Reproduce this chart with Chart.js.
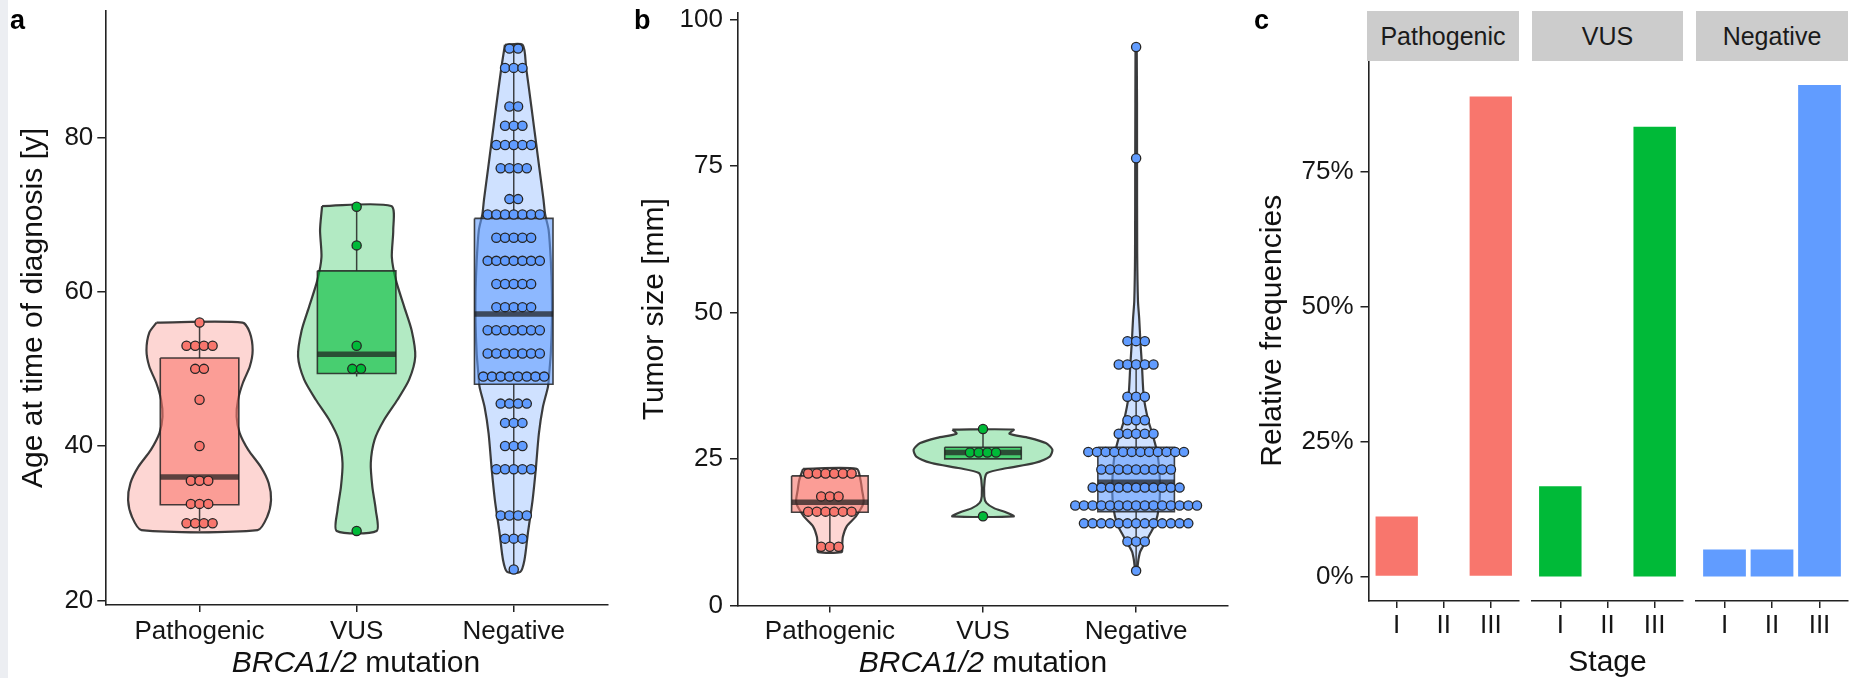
<!DOCTYPE html>
<html>
<head>
<meta charset="utf-8">
<script src="https://cdn.jsdelivr.net/npm/chart.js@4.4.1/dist/chart.umd.min.js"></script>
<style>
  html, body { margin: 0; padding: 0; background: #fff; }
  body { width: 1851px; height: 678px; position: relative; overflow: hidden; font-family: 'Liberation Sans', Arial, sans-serif; }
  canvas { position: absolute; top: 0; }
  .band { position: absolute; left: 0; top: 0; width: 8px; height: 678px; background: #eceef2; }
  .lbl { position: absolute; font-weight: bold; font-size: 27px; line-height: 27px; color: #000; }
  .xt { position: absolute; top: 647px; font-size: 30px; line-height: 30px; color: #111; white-space: nowrap; transform: translateX(-50%); }
  .strip { position: absolute; top: 11px; height: 50px; background: #cccccc; font-size: 25px; color: #1a1a1a;
           display: flex; align-items: center; justify-content: center; }
</style>
</head>
<body>
<div class="band"></div>
<canvas id="chartA" width="620" height="678" style="left:0"></canvas>
<canvas id="chartB" width="620" height="678" style="left:620px"></canvas>
<canvas id="chartC1" width="285" height="678" style="left:1240px"></canvas>
<canvas id="chartC2" width="165" height="678" style="left:1525px"></canvas>
<canvas id="chartC3" width="161" height="678" style="left:1690px"></canvas>

<div class="lbl" style="left:10px;top:7px">a</div>
<div class="lbl" style="left:634px;top:7px">b</div>
<div class="lbl" style="left:1254px;top:7px">c</div>
<div class="xt" style="left:356px"><i>BRCA1/2</i> mutation</div>
<div class="xt" style="left:983px"><i>BRCA1/2</i> mutation</div>
<div class="strip" style="left:1367px;width:152px">Pathogenic</div>
<div class="strip" style="left:1532px;width:151px">VUS</div>
<div class="strip" style="left:1696px;width:152px">Negative</div>

<script>
// groups and stages
const groups = ['Pathogenic', 'VUS', 'Negative'];
const stages = ['I', 'II', 'III'];

// tick values
const ageTicks = [20, 40, 60, 80];
const sizeTicks = [0, 25, 50, 75, 100];
const freqTicks = [0, 0.25, 0.5, 0.75];

// panel a: age at diagnosis, dot rows (binned value / number of dots)
const agePathoDots = [56, 53, 50, 46, 40, 35.5, 32.5, 30];
const agePathoCounts = [1, 4, 2, 1, 1, 3, 3, 4];
const ageVusDots = [71, 66, 53, 50, 29];
const ageVusCounts = [1, 1, 1, 2, 1];
const ageNegDots = [91.5, 89, 84, 81.5, 79, 76, 72, 70, 67, 64, 61, 58, 55, 52, 49, 45.5, 43, 40, 37, 31, 28, 24];
const ageNegCounts = [2, 3, 2, 3, 5, 4, 2, 7, 5, 7, 5, 5, 7, 7, 8, 4, 3, 3, 5, 4, 3, 1];

// box stats: lower whisker, q1, median, q3, upper whisker
const agePathoBox = [29, 32.4, 36.0, 51.4, 56];
const ageVusBox = [49, 49.4, 51.9, 62.7, 71];
const ageNegBox = [24, 48.0, 57.1, 69.5, 92];

// violin outlines: level and half width
const agePathoVioY = [56, 54.7, 52.4, 50.3, 48.2, 46, 43.8, 41.7, 39.5, 37.3, 35.2, 33, 30.8, 29.1];
const agePathoVioW = [0.274, 0.32, 0.338, 0.32, 0.276, 0.245, 0.236, 0.255, 0.31, 0.39, 0.44, 0.455, 0.43, 0.37];
const ageVusVioY = [71.1, 68, 64.5, 61.5, 58.1, 55, 51.6, 48.6, 46, 43.4, 40.8, 37.8, 34.7, 31.7, 29];
const ageVusVioW = [0.22, 0.233, 0.224, 0.25, 0.302, 0.35, 0.373, 0.334, 0.26, 0.175, 0.114, 0.09, 0.1, 0.122, 0.127];
const ageNegVioY = [92, 89, 84, 81.5, 79, 76, 72, 70, 68, 64, 60, 56, 52, 49.5, 47.7, 45, 41.6, 36.9, 33, 28.7, 25.2, 23.7];
const ageNegVioW = [0.056, 0.079, 0.112, 0.128, 0.144, 0.163, 0.189, 0.2, 0.222, 0.236, 0.243, 0.243, 0.236, 0.226, 0.218, 0.185, 0.16, 0.14, 0.12, 0.09, 0.068, 0.042];

// panel b: tumor size
const sizePathoDots = [22.5, 18.6, 16, 10];
const sizePathoCounts = [6, 3, 6, 3];
const sizeVusDots = [30.1, 26.1, 15.2];
const sizeVusCounts = [1, 4, 1];
const sizeNegDots = [95.3, 76.3, 45.1, 41.1, 35.6, 31.6, 29.3, 26.2, 23.2, 20.1, 17.05, 14.0, 10.9, 5.9];
const sizeNegCounts = [1, 1, 3, 5, 3, 3, 5, 12, 9, 11, 15, 13, 3, 1];

const sizePathoBox = [10, 15.9, 17.6, 22.1, 23];
const sizeVusBox = [25, 25, 26.1, 27, 30];
const sizeNegBox = [6, 16.0, 21.0, 27.0, 41];

const sizePathoVioY = [23.3, 21.4, 19.7, 17.5, 15.2, 13.5, 11.7, 10, 9.1];
const sizePathoVioW = [0.175, 0.2, 0.21, 0.22, 0.17, 0.11, 0.085, 0.08, 0.077];
const sizeVusVioY = [30.0, 29.3, 28.6, 27.7, 26.6, 25.4, 24.3, 23.4, 22.6, 21.4, 18.6, 17.5, 16.6, 15.9, 15.2];
const sizeVusVioW = [0.2, 0.173, 0.3, 0.41, 0.453, 0.436, 0.337, 0.15, 0.027, 0.011, 0.008, 0.022, 0.072, 0.149, 0.2];
const sizeNegVioY = [95.3, 76.3, 60, 52, 49, 45, 41, 35.6, 31.6, 29.3, 26.2, 23.2, 20.1, 17, 14, 12.3, 10.9, 9.2, 7.8, 5.9];
const sizeNegVioW = [0.004, 0.006, 0.007, 0.012, 0.02, 0.028, 0.038, 0.05, 0.079, 0.106, 0.137, 0.151, 0.156, 0.15, 0.126, 0.093, 0.064, 0.027, 0.015, 0.005];

// panel c: relative frequency of stage
const freqPatho = [0.111, 0, 0.889];
const freqVus = [0.167, 0, 0.833];
const freqNeg = [0.05, 0.05, 0.91];

// styling
const FONT = "'Liberation Sans', Arial, sans-serif";
Chart.defaults.font.family = FONT;
const groupCol = ['248,118,109', '0,186,56', '97,156,255'];
const solidCol = ['#F8766D', '#00BA38', '#619CFF'];
const axisCol = '#222';
const lineCol = 'rgba(35,35,35,0.85)';
const tickFont = {family: FONT, size: 26};
const titleFont = {family: FONT, size: 30, lineHeight: 1};

function groupDatasets(i, vioY, vioW, box, dotVals, dotCounts, step) {
    const c = i + 1;
    const hw = 0.25;
    const violin = vioY.map((y, k) => ({x: c - vioW[k], y: y}))
        .concat(vioY.map((y, k) => ({x: c + vioW[k], y: y})).reverse());
    violin.push(violin[0]);
    const [lo, q1, med, q3, hi] = box;
    const rect = [{x: c - hw, y: q3}, {x: c + hw, y: q3}, {x: c + hw, y: q1}, {x: c - hw, y: q1}, {x: c - hw, y: q3}];
    const dots = [];
    dotVals.forEach((v, k) => {
        const n = dotCounts[k];
        for (let j = 0; j < n; j++) dots.push({x: c + (j - (n - 1) / 2) * step, y: v});
    });
    const seg = {showLine: true, pointRadius: 0, pointHitRadius: 0};
    return [
        Object.assign({data: violin, fill: 'shape', tension: 0.25, backgroundColor: 'rgba(' + groupCol[i] + ',0.3)',
            borderColor: 'rgba(40,40,40,0.9)', borderWidth: 2.2, borderJoinStyle: 'round', order: 6}, seg),
        Object.assign({data: [{x: c, y: hi}, {x: c, y: q3}], borderColor: lineCol, borderWidth: 1.5, order: 5}, seg),
        Object.assign({data: [{x: c, y: q1}, {x: c, y: lo}], borderColor: lineCol, borderWidth: 1.5, order: 5}, seg),
        Object.assign({data: rect, fill: 'shape', tension: 0, backgroundColor: 'rgba(' + groupCol[i] + ',0.6)',
            borderColor: lineCol, borderWidth: 1.6, order: 4}, seg),
        Object.assign({data: [{x: c - hw, y: med}, {x: c + hw, y: med}], borderColor: 'rgba(30,30,30,0.72)', borderWidth: 5.5, order: 3}, seg),
        {data: dots, backgroundColor: solidCol[i], borderColor: '#262626', borderWidth: 1.3, pointRadius: 4.6, pointHitRadius: 0, order: 1}
    ];
}

function yScale(min, max, ticks, fmt, width, pad, title, titlePad) {
    return {
        type: 'linear', min: min, max: max,
        afterBuildTicks: s => { s.ticks = ticks.map(v => ({value: v})); },
        afterFit: s => { s.width = width; s.paddingTop = 0; s.paddingBottom = 0; },
        ticks: {font: tickFont, color: '#151515', padding: pad, callback: fmt},
        grid: {drawOnChartArea: false, tickLength: 8, color: axisCol, lineWidth: 1.5},
        border: {color: axisCol, width: 1.6},
        title: {display: true, text: title, font: titleFont, color: '#111', padding: {top: titlePad, bottom: 0}}
    };
}

function xScale(labels, height, pad, title) {
    return {
        type: 'linear', min: 0.4, max: 3.6, offset: false,
        afterBuildTicks: s => { s.ticks = labels.map((l, i) => ({value: i + 1})); },
        afterFit: s => { s.height = height; s.paddingLeft = 0; s.paddingRight = 0; },
        ticks: {font: tickFont, color: '#151515', padding: pad, autoSkip: false, maxRotation: 0, minRotation: 0,
            callback: v => labels[Math.round(v) - 1]},
        grid: {offset: false, drawOnChartArea: false, tickLength: 7, color: axisCol, lineWidth: 1.5},
        border: {color: axisCol, width: 1.6},
        title: title ? {display: true, text: title, font: titleFont, color: '#111', padding: {top: 0, bottom: 0}} : {display: false}
    };
}

const baseOptions = {
    responsive: false,
    animation: false,
    devicePixelRatio: 1,
    plugins: {legend: {display: false}, tooltip: {enabled: false}}
};

// panel a
const stepA = 0.0554;
new Chart(document.getElementById('chartA'), {
    type: 'scatter',
    data: {datasets: [].concat(
        groupDatasets(0, agePathoVioY, agePathoVioW, agePathoBox, agePathoDots, agePathoCounts, stepA),
        groupDatasets(1, ageVusVioY, ageVusVioW, ageVusBox, ageVusDots, ageVusCounts, stepA),
        groupDatasets(2, ageNegVioY, ageNegVioW, ageNegBox, ageNegDots, ageNegCounts, stepA)
    )},
    options: Object.assign({}, baseOptions, {
        layout: {padding: {left: 0, right: 12, top: 10.8, bottom: 0}},
        scales: {
            x: xScale(groups, 73, 4, null),
            y: yScale(19.4, 96.4, ageTicks, v => String(v), 105.3, 4, 'Age at time of diagnosis [y]', 18.5)
        }
    })
});

// panel b
const stepB = 0.0568;
new Chart(document.getElementById('chartB'), {
    type: 'scatter',
    data: {datasets: [].concat(
        groupDatasets(0, sizePathoVioY, sizePathoVioW, sizePathoBox, sizePathoDots, sizePathoCounts, stepB),
        groupDatasets(1, sizeVusVioY, sizeVusVioW, sizeVusBox, sizeVusDots, sizeVusCounts, stepB),
        groupDatasets(2, sizeNegVioY, sizeNegVioW, sizeNegBox, sizeNegDots, sizeNegCounts, stepB)
    )},
    options: Object.assign({}, baseOptions, {
        layout: {padding: {left: 0, right: 12, top: 13, bottom: 0}},
        scales: {
            x: xScale(groups, 72.6, 4, null),
            y: yScale(0, 101.1, sizeTicks, v => String(v), 118, 7, 'Tumor size [mm]', 20)
        }
    })
});

// panel c: one chart per facet
function facet(id, values, i, pad, showY, xTitle) {
    const y = showY
        ? yScale(-0.0455, 0.9555, freqTicks, v => Math.round(v * 100) + '%', 128.5, 7, 'Relative frequencies', 17.7)
        : {display: false, min: -0.0455, max: 0.9555};
    return new Chart(document.getElementById(id), {
        type: 'bar',
        data: {datasets: [{
            data: values.map((v, k) => ({x: k + 1, y: v})),
            backgroundColor: solidCol[i],
            borderWidth: 0,
            barPercentage: 0.9,
            categoryPercentage: 1
        }]},
        options: Object.assign({}, baseOptions, {
            layout: {padding: pad},
            scales: {x: xScale(stages, 77, 2, xTitle), y: y}
        })
    });
}
facet('chartC1', freqPatho, 0, {left: 0, right: 6, top: 60.5, bottom: 0}, true, null);
facet('chartC2', freqVus, 1, {left: 7, right: 7, top: 60.5, bottom: 0}, false, 'Stage');
facet('chartC3', freqNeg, 2, {left: 6, right: 3, top: 60.5, bottom: 0}, false, null);
</script>
</body>
</html>
